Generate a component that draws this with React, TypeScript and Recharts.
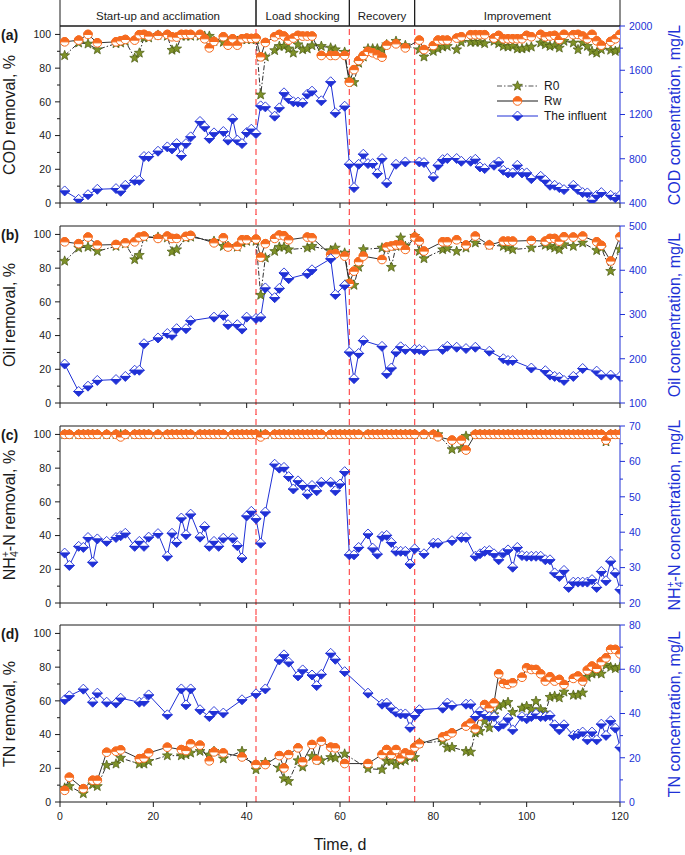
import React from "react";
import {
  LineChart,
  Line,
  XAxis,
  YAxis,
  ReferenceLine,
  ReferenceArea,
} from "recharts";

// ---- shared axis / phase info ----
const phaseNames = ["Start-up and acclimation", "Load shocking", "Recovery", "Improvement"];
const phaseStarts = [0, 42, 62, 76];
const phaseEnds = [42, 62, 76, 120];
const phaseBounds = [42, 62, 76];

const dayMajor = [0, 20, 40, 60, 80, 100, 120];
const dayMinor = [10, 30, 50, 70, 90, 110];
const pctMajor = [0, 20, 40, 60, 80, 100];
const pctMinor = [10, 30, 50, 70, 90];

// ---- (a) COD ----
const codDays = [
  1, 4, 6, 8, 12, 13, 14, 16, 17, 18, 19, 21, 23, 24, 25, 26, 27, 28, 30, 31, 32, 33, 35, 36, 37, 38,
  39, 40, 41, 42, 43, 44, 46, 47, 48, 49, 50, 51, 52, 53, 54, 56, 58, 59, 61, 62, 63, 64, 65, 66, 67,
  68, 69, 70, 72, 74, 77, 78, 80, 81, 82, 83, 85, 86, 88, 89, 90, 91, 93, 94, 95, 96, 97, 98, 99,
  100, 101, 103, 104, 105, 106, 107, 108, 110, 111, 112, 113, 114, 115, 116, 118, 119, 120,
];
const codInf = [
  509, 433, 475, 524, 530, 506, 560, 605, 605, 820, 820, 868, 907, 889, 937, 829, 937, 998, 1137, 1088,
  983, 1034, 1046, 968, 1161, 968, 937, 1037, 1067, 1028, 1278, 1269, 1185, 1260, 1396, 1342, 1315,
  1312, 1306, 1384, 1411, 1324, 1496, 1215, 1275, 750, 539, 750, 841, 756, 756, 666, 802, 581, 750,
  771, 771, 765, 635, 741, 792, 802, 802, 777, 777, 795, 726, 711, 741, 771, 696, 672, 672, 741, 672,
  672, 620, 641, 605, 560, 560, 539, 521, 560, 521, 494, 491, 424, 469, 494, 469, 448, 469,
];
const codRw = [
  95.6, 96.6, 100, 95, 95.6, 96.2, 97, 96.6, 99.8, 100, 99, 99.4, 100, 98.6, 98.4, 100, 100, 100, 100,
  97.4, 92, 95.8, 98.6, 93.6, 97.4, 93.6, 97.4, 97.8, 97.6, 97.8, 86.7, 95.2, 98.6, 100, 99, 96.6, 97.8,
  99.4, 99, 99, 99, 87.5, 87.5, 87.5, 87.5, 71.6, 79.1, 84.5, 87.5, 89.9, 89.1, 87.9, 86.5, 93.6, 94.4,
  92, 96.6, 91, 93.4, 96.6, 96.6, 96.6, 97.8, 98.6, 99.8, 99.8, 99.8, 99.8, 97.8, 99.4, 97.4, 97.4,
  97.4, 97.4, 97.4, 99.4, 98.6, 100, 98.6, 99, 99.4, 97, 100, 99.8, 100, 99, 97.4, 100, 96.2, 93.6,
  95.8, 97.4, 100,
];
const codR0 = [
  87.5, 95, 94.4, 91, 94.6, 95, 96, 86, 89, 98, 98, 99.6, 99, 90.7, 91.5, 99, 99, 99, 99, 99, 99, 96,
  95.4, 96, 97, 96, 97, 97, 97, 97, 64.2, 86.7, 90.5, 93, 93, 91.5, 89, 94, 91, 91.5, 93.4, 93, 92, 91,
  89.5, 73, 71.6, 83, 86.7, 91.5, 91.5, 91.5, 91, 94, 96, 93.5, 91, 86.7, 90, 91.5, 92.6, 93, 91, 95.4,
  95.4, 95.4, 95.4, 94.6, 96, 94.6, 93, 92.6, 93, 91.5, 91.5, 92, 92.6, 95, 94, 93, 93.4, 92, 96, 95,
  91, 95, 93, 90, 89, 91, 90.7, 90, 91,
];
const codMajor = [400, 800, 1200, 1600, 2000];
const codMinor = [600, 1000, 1400, 1800];

// ---- (b) Oil ----
const oilDays = [
  1, 4, 6, 8, 12, 14, 16, 17, 18, 21, 23, 24, 25, 27, 28, 33, 35, 36, 38, 39, 40, 42, 43, 44, 46, 47,
  48, 49, 53, 54, 58, 59, 61, 62, 63, 64, 65, 69, 70, 71, 72, 73, 74, 76, 77, 78, 82, 83, 85, 87, 89,
  92, 95, 96, 97, 101, 104, 105, 106, 107, 108, 110, 112, 115, 116, 118, 120,
];
const oilInf = [
  188, 126, 138, 151, 153, 160, 174, 174, 234, 247, 257, 253, 268, 268, 286, 294, 298, 277, 277, 267,
  294, 291, 294, 360, 338, 359, 394, 381, 392, 401, 426, 345, 366, 215, 155, 212, 241, 228, 166, 179,
  215, 227, 221, 221, 221, 218, 221, 228, 226, 223, 226, 217, 200, 196, 196, 179, 173, 163, 160, 158,
  151, 160, 178, 172, 163, 163, 160,
];
const oilRw = [
  95.6, 94.5, 98.4, 93.7, 94, 95, 95.6, 98.4, 99, 97.6, 99, 97.6, 97.6, 98.8, 99.4, 95, 98, 92.5, 93,
  96.8, 96.8, 97.2, 86.5, 94.5, 97.6, 99.6, 99.2, 96.8, 98.4, 98, 88.1, 88.5, 87.1, 70.9, 78.2, 83.8,
  87.1, 85.1, 92.5, 93.1, 93.7, 93.7, 91.1, 98.4, 96, 90.1, 95.6, 95.6, 96.8, 93.7, 99, 93.7, 96, 96,
  96, 96.4, 96, 97.6, 97.6, 96, 98.6, 98.4, 99, 95.6, 93.5, 84.2, 98.6,
];
const oilR0 = [
  84.2, 92, 92.5, 90, 93, 94.5, 85.1, 87.7, 98.4, 98.4, 98, 89.7, 91, 98, 98.5, 96, 93, 93, 92.5, 95,
  96, 96, 64, 86.1, 90, 92.5, 92.5, 91, 92, 93, 90.5, 92, 89, 71.9, 69.9, 80.6, 91.1, 92, 92, 80.6, 93,
  98, 93, 99, 90, 85.7, 91, 91.7, 90, 92, 95, 93.7, 93, 92, 91, 92, 93.7, 93, 92, 91, 94, 93, 95, 90.5,
  92, 78.2, 91.1,
];
const oilMajor = [100, 200, 300, 400, 500];
const oilMinor = [150, 250, 350, 450];

// ---- (c) NH4+-N ----
const nhDays = [
  1, 2, 4, 5, 6, 7, 8, 10, 12, 13,
  14, 16, 17, 18, 19, 21, 23, 24, 25, 26,
  27, 28, 30, 31, 32, 33, 34, 35, 37, 38,
  39, 40, 41, 42, 43, 44, 46, 47, 48, 49,
  50, 51, 52, 53, 54, 55, 56, 58, 59, 60,
  61, 62, 63, 64, 66, 67, 68, 69, 70, 71,
  72, 73, 74, 75, 76, 78, 80, 81, 84, 86,
  87, 89, 90, 91, 92, 93, 94, 95, 96, 97,
  98, 99, 100, 101, 102, 103, 104, 105, 106, 107,
  108, 109, 110, 111, 112, 113, 114, 115, 116, 117,
  118, 119, 120,
];
const nhInf = [
  34.1, 30.6, 36.0, 35.7, 38.5, 31.5, 38.1, 37.4, 38.5, 39.0,
  39.7, 36.0, 37.4, 36.0, 38.6, 39.6, 33.2, 39.7, 37.1, 44.0,
  39.3, 45.1, 38.6, 41.6, 36.0, 37.4, 36.0, 38.3, 38.3, 36.2,
  32.7, 44.6, 45.9, 43.8, 36.9, 45.7, 59.2, 58.1, 58.3, 55.7,
  52.2, 54.5, 53.2, 50.7, 53.2, 51.7, 54.1, 54.1, 51.7, 53.6,
  57.1, 33.6, 33.6, 35.7, 39.5, 35.5, 33.8, 38.8, 39.1, 37.1,
  34.6, 34.6, 34.6, 31.0, 35.3, 33.9, 36.9, 36.9, 37.6, 38.5,
  38.5, 33.2, 33.9, 34.6, 34.8, 33.9, 32.2, 34.1, 35.0, 30.1,
  35.7, 33.4, 33.2, 33.2, 33.2, 33.2, 32.2, 32.2, 28.5, 27.5,
  29.2, 24.4, 25.9, 25.9, 25.9, 25.9, 26.6, 24.4, 28.9, 26.3,
  31.8, 28.5, 23.8,
];
const nhRw = [
  100, 100, 100, 100, 100, 100, 100, 100, 100, 98.5,
  100, 100, 100, 100, 100, 100, 100, 100, 100, 100,
  100, 100, 100, 100, 100, 100, 100, 100, 100, 100,
  100, 100, 100, 100, 98.5, 100, 100, 100, 100, 100,
  100, 100, 100, 100, 100, 100, 100, 100, 100, 100,
  100, 100, 100, 100, 100, 100, 100, 100, 100, 100,
  100, 100, 100, 100, 100, 100, 100, 98.6, 96.6, 96.6,
  90.7, 100, 100, 100, 100, 100, 100, 100, 100, 100,
  100, 100, 100, 100, 100, 100, 100, 100, 100, 100,
  100, 100, 100, 100, 100, 100, 100, 100, 100, 96.6,
  100, 100, 100,
];
const nhR0 = [
  100, 100, 100, 100, 100, 100, 100, 100, 100, 100,
  100, 100, 100, 100, 100, 100, 100, 100, 100, 100,
  100, 100, 100, 100, 100, 100, 100, 100, 100, 100,
  100, 100, 100, 100, 100, 100, 100, 100, 100, 100,
  100, 100, 100, 100, 100, 100, 100, 100, 100, 100,
  100, 100, 100, 100, 100, 100, 100, 100, 100, 100,
  100, 100, 100, 100, 100, 100, 100, 100, 91.1, 91.7,
  99, 100, 100, 100, 100, 100, 100, 100, 100, 100,
  100, 100, 100, 100, 100, 100, 100, 100, 100, 100,
  100, 100, 100, 100, 100, 100, 100, 100, 100, 95.7,
  100, 100, 100,
];
const nhMajor = [20, 30, 40, 50, 60, 70];
const nhMinor = [25, 35, 45, 55, 65];

// ---- (d) TN ----
const tnDays = [
  1, 2, 5, 7, 8, 10, 12, 13, 17, 18,
  19, 23, 26, 27, 28, 30, 32, 33, 35, 39,
  42, 44, 47, 48, 49, 51, 52, 54, 55, 56,
  58, 59, 61, 66, 69, 70, 71, 72, 73, 74,
  75, 76, 77, 82, 83, 84, 87, 88, 89, 90,
  91, 92, 93, 94, 95, 96, 97, 99, 100, 101,
  102, 103, 104, 105, 106, 107, 108, 110, 111, 112,
  113, 114, 115, 116, 117, 118, 119, 120,
];
const tnInf = [
  46.2, 48.0, 51.0, 45.1, 49.2, 45.1, 44.7, 46.9, 45.1, 45.4,
  48.4, 39.4, 51.1, 43.9, 51.1, 41.7, 38.6, 40.9, 40.2, 46.2,
  48.9, 51.1, 64.2, 66.5, 63.2, 57.0, 59.7, 57.4, 52.6, 57.7,
  67.2, 64.5, 58.9, 49.2, 44.2, 44.7, 42.4, 40.6, 39.8, 39.8,
  33.7, 39.1, 41.7, 42.4, 44.7, 43.6, 44.2, 44.2, 38.6, 40.9,
  39.4, 38.6, 38.6, 34.1, 35.2, 37.9, 32.6, 38.6, 37.6, 38.6,
  39.7, 38.6, 38.6, 39.1, 34.9, 32.6, 34.9, 30.1, 30.7, 31.6,
  28.1, 31.6, 28.1, 35.2, 30.1, 36.7, 33.4, 24.7,
];
const tnRw = [
  6.9, 14.7, 7.9, 12.9, 12.9, 29.5, 30.1, 30.9, 25.7, 26.1,
  29.1, 32.5, 31.1, 30.5, 34.5, 33.7, 24.4, 29.7, 29.1, 26.7,
  22.2, 22.2, 27.5, 20.2, 28.1, 32.1, 23.8, 34.1, 24.8, 36.0,
  32.5, 32.1, 22.8, 22.8, 28.1, 31.1, 28.1, 31.1, 26.1, 29.1,
  28.1, 32.5, 34.5, 38.6, 39.4, 41.0, 45.0, 46.9, 43.4, 51.0,
  57.8, 55.8, 58.8, 76.0, 70.3, 69.7, 70.7, 74.0, 79.6, 78.6,
  78.6, 76.0, 71.7, 74.3, 71.7, 72.7, 69.7, 73.3, 74.7, 71.7,
  78.2, 80.6, 79.2, 83.2, 85.5, 90.5, 90.5, 87.9,
];
const tnR0 = [
  8.3, 9.3, 5.0, 10.3, 9.3, 21.8, 22.6, 26.1, 22.6, 22.6,
  24.2, 27.5, 27.5, 28.1, 29.1, 30.1, 28.0, 30.1, 25.7, 30.1,
  19.2, 23.6, 20.2, 13.9, 12.3, 24.6, 20.8, 27.1, 25.1, 24.6,
  26.5, 26.1, 28.5, 19.8, 19.2, 24.2, 24.2, 22.0, 24.2, 24.6,
  26.7, 26.5, 35.0, 36.0, 32.1, 32.5, 30.1, 29.7, 41.0, 42.0,
  47.9, 44.0, 51.9, 56.8, 57.8, 59.2, 53.2, 55.8, 56.8, 54.9,
  59.8, 54.9, 52.9, 62.2, 62.8, 61.8, 65.3, 63.4, 63.4, 64.8,
  74.1, 76.0, 76.6, 76.0, 81.2, 80.0, 79.2, 80.0,
];
const tnMajor = [0, 20, 40, 60, 80];
const tnMinor = [10, 30, 50, 70];

// ---- look ----
const INK = "#1a1a1a";
const BLUE = "#2031d6";
const ORANGE = "#f66a1e";
const OLIVE = "#7e9128";
const OLIVE_DARK = "#4b5a12";
const RED = "#ff4d4d";
const FONT = "Arial, 'Liberation Sans', Helvetica, sans-serif";

const W = 685;
const PLOT_H = 177;
const PAD = 14;
const HEADER_H = 26;
const LEFT_MAX = 105;
const UNIT = LEFT_MAX / PLOT_H;

function starPath(cx: number, cy: number, R: number, r: number) {
  let d = "";
  for (let i = 0; i < 10; i++) {
    const rad = i % 2 === 0 ? R : r;
    const a = -Math.PI / 2 + (i * Math.PI) / 5;
    d += (i === 0 ? "M" : "L") + (cx + rad * Math.cos(a)).toFixed(2) + " " + (cy + rad * Math.sin(a)).toFixed(2);
  }
  return d + "Z";
}

const Star = ({ cx, cy }: { cx: number; cy: number }) => (
  <path d={starPath(cx, cy, 5.2, 2.2)} fill={OLIVE} stroke={OLIVE_DARK} strokeWidth={0.7} />
);

const HalfCircle = ({ cx, cy }: { cx: number; cy: number }) => {
  const r = 4.3;
  return (
    <g>
      <circle cx={cx} cy={cy} r={r} fill="#fff" stroke={ORANGE} strokeWidth={1} />
      <path d={`M${cx - r} ${cy} A${r} ${r} 0 0 1 ${cx + r} ${cy} Z`} fill={ORANGE} stroke={ORANGE} strokeWidth={1} />
    </g>
  );
};

const Diamond = ({ cx, cy }: { cx: number; cy: number }) => {
  const w = 5;
  const h = 5;
  return (
    <g>
      <path d={`M${cx - w} ${cy} L${cx} ${cy - h} L${cx + w} ${cy} Z`} fill="#fff" stroke={BLUE} strokeWidth={0.9} />
      <path d={`M${cx - w} ${cy} L${cx} ${cy + h} L${cx + w} ${cy} Z`} fill={BLUE} stroke={BLUE} strokeWidth={0.9} />
    </g>
  );
};

const dotOf = (Mark: any) => (p: any) => {
  if (p.cx == null || p.cy == null || p.value == null) return <g key={`e-${p.index}`} />;
  return (
    <g key={`m-${p.index}`}>
      <Mark cx={p.cx} cy={p.cy} />
    </g>
  );
};

const makeTick = (side: "left" | "right" | "bottom", major: number[], color: string, showLabel: boolean) => (p: any) => {
  const v = p.payload.value;
  const isMajor = major.includes(v);
  const len = isMajor ? 5 : 3;
  if (side === "bottom") {
    return (
      <g>
        <line x1={p.x} x2={p.x} y1={p.y} y2={p.y + len} stroke={color} />
        {showLabel && isMajor && (
          <text x={p.x} y={p.y + 18} textAnchor="middle" fontSize={10.5} fill={color}>
            {v}
          </text>
        )}
      </g>
    );
  }
  const s = side === "left" ? -1 : 1;
  return (
    <g>
      <line x1={p.x} x2={p.x + s * len} y1={p.y} y2={p.y} stroke={color} />
      {isMajor && (
        <text x={p.x + s * 9} y={p.y} dy="0.36em" textAnchor={side === "left" ? "end" : "start"} fontSize={10.5} fill={color}>
          {v}
        </text>
      )}
    </g>
  );
};

type PanelProps = {
  plotTop: number;
  letter: string;
  days: number[];
  r0: number[];
  rw: number[];
  inf: number[];
  rightDomain: [number, number];
  rightMajor: number[];
  rightMinor: number[];
  leftTitle: React.ReactNode;
  rightTitle: React.ReactNode;
  header?: boolean;
  last?: boolean;
};

function Panel(props: PanelProps) {
  const { plotTop, days, r0, rw, inf, rightDomain, rightMajor, rightMinor, header, last } = props;
  const mTop = header ? HEADER_H : PAD;
  const xH = last ? 30 : PAD;
  const height = mTop + PLOT_H + xH;
  const rows = days.map((day, i) => ({ day, r0: r0[i], rw: rw[i], inf: inf[i] }));
  const ext = 12 * UNIT;
  const segTop = header ? LEFT_MAX : LEFT_MAX + ext;
  const segBottom = last ? 0 : -ext;
  const headTop = LEFT_MAX + (HEADER_H + 3) * UNIT;
  const rightTicks = [...rightMajor, ...rightMinor].sort((a, b) => a - b);

  return (
    <div style={{ position: "absolute", left: 0, top: plotTop - mTop }}>
      <LineChart width={W} height={height} data={rows} margin={{ top: mTop, right: 0, bottom: 0, left: 0 }}>
        <XAxis
          dataKey="day"
          type="number"
          domain={[0, 120]}
          ticks={[...dayMajor, ...dayMinor].sort((a, b) => a - b)}
          interval={0}
          height={xH}
          tickLine={false}
          tickSize={0}
          tickMargin={0}
          axisLine={{ stroke: INK }}
          tick={makeTick("bottom", dayMajor, INK, !!last)}
          allowDataOverflow
        />
        <YAxis
          yAxisId="left"
          domain={[0, LEFT_MAX]}
          ticks={[...pctMajor, ...pctMinor].sort((a, b) => a - b)}
          interval={0}
          width={60}
          tickLine={false}
          tickSize={0}
          tickMargin={0}
          axisLine={{ stroke: INK }}
          tick={makeTick("left", pctMajor, INK, true)}
          allowDataOverflow
        />
        <YAxis
          yAxisId="right"
          orientation="right"
          domain={rightDomain}
          ticks={rightTicks}
          interval={0}
          width={65}
          tickLine={false}
          tickSize={0}
          tickMargin={0}
          axisLine={{ stroke: BLUE }}
          tick={makeTick("right", rightMajor, BLUE, true)}
          allowDataOverflow
        />
        <ReferenceLine yAxisId="left" y={LEFT_MAX} stroke={INK} strokeWidth={1} />
        {header &&
          phaseNames.map((name, i) => (
            <ReferenceArea
              key={name}
              yAxisId="left"
              x1={phaseStarts[i]}
              x2={phaseEnds[i]}
              y1={LEFT_MAX}
              y2={headTop}
              ifOverflow="visible"
              fill="none"
              fillOpacity={0}
              stroke={INK}
              strokeWidth={1}
              label={{ value: name, position: "insideBottom", offset: 6, fontSize: 11.5, fill: INK }}
            />
          ))}
        {phaseBounds.map((b) => (
          <ReferenceLine
            key={b}
            yAxisId="left"
            segment={[
              { x: b, y: segBottom },
              { x: b, y: segTop },
            ]}
            ifOverflow="visible"
            stroke={RED}
            strokeWidth={1.2}
            strokeDasharray="6 4"
          />
        ))}
        <Line
          yAxisId="left"
          dataKey="r0"
          stroke={INK}
          strokeWidth={0.9}
          strokeDasharray="5 2 1.5 2"
          dot={dotOf(Star)}
          activeDot={false}
          isAnimationActive={false}
        />
        <Line
          yAxisId="left"
          dataKey="rw"
          stroke={INK}
          strokeWidth={0.9}
          dot={dotOf(HalfCircle)}
          activeDot={false}
          isAnimationActive={false}
        />
        <Line
          yAxisId="right"
          dataKey="inf"
          stroke={BLUE}
          strokeWidth={1}
          dot={dotOf(Diamond)}
          activeDot={false}
          isAnimationActive={false}
        />
      </LineChart>
    </div>
  );
}

function VTitle({ cx, cy, color, children }: { cx: number; cy: number; color: string; children: React.ReactNode }) {
  return (
    <div
      style={{
        position: "absolute",
        left: cx,
        top: cy,
        transform: "translate(-50%, -50%) rotate(-90deg)",
        whiteSpace: "nowrap",
        fontSize: 16,
        lineHeight: "16px",
        height: 16,
        color,
      }}
    >
      {children}
    </div>
  );
}

const scriptStyle: React.CSSProperties = {
  fontSize: 10.5,
  lineHeight: 0,
  position: "relative",
  verticalAlign: "baseline",
};

const NH4 = (
  <>
    NH<span style={{ ...scriptStyle, top: 3 }}>4</span>
    <span style={{ ...scriptStyle, top: -6, marginLeft: -6 }}>+</span>-N
  </>
);

const panels = [
  {
    letter: "(a)", plotTop: 26, days: codDays, r0: codR0, rw: codRw, inf: codInf,
    rightDomain: [400, 2000] as [number, number], rightMajor: codMajor, rightMinor: codMinor,
    leftTitle: "COD removal, %", rightTitle: "COD concentration, mg/L", header: true,
  },
  {
    letter: "(b)", plotTop: 226, days: oilDays, r0: oilR0, rw: oilRw, inf: oilInf,
    rightDomain: [100, 500] as [number, number], rightMajor: oilMajor, rightMinor: oilMinor,
    leftTitle: "Oil removal, %", rightTitle: "Oil concentration, mg/L",
  },
  {
    letter: "(c)", plotTop: 426, days: nhDays, r0: nhR0, rw: nhRw, inf: nhInf,
    rightDomain: [20, 70] as [number, number], rightMajor: nhMajor, rightMinor: nhMinor,
    leftTitle: <>{NH4} removal, %</>, rightTitle: <>{NH4} concentration, mg/L</>,
  },
  {
    letter: "(d)", plotTop: 625, days: tnDays, r0: tnR0, rw: tnRw, inf: tnInf,
    rightDomain: [0, 80] as [number, number], rightMajor: tnMajor, rightMinor: tnMinor,
    leftTitle: "TN removal, %", rightTitle: "TN concentration, mg/L", last: true,
  },
];

function LegendBox() {
  const rows = [
    { label: "R0", color: "#555", dash: "5 2 1.5 2", Mark: Star },
    { label: "Rw", color: INK, dash: undefined, Mark: HalfCircle },
    { label: "The influent", color: BLUE, dash: undefined, Mark: Diamond },
  ];
  return (
    <svg width={130} height={50} style={{ position: "absolute", left: 493, top: 78 }}>
      {rows.map((r, i) => {
        const y = 8 + i * 15;
        return (
          <g key={r.label}>
            <line x1={4} x2={45} y1={y} y2={y} stroke={r.color} strokeWidth={1} strokeDasharray={r.dash} />
            <r.Mark cx={24.5} cy={y} />
            <text x={51} y={y} dy="0.36em" fontSize={12} fill={INK}>
              {r.label}
            </text>
          </g>
        );
      })}
    </svg>
  );
}

export default function App() {
  return (
    <div
      style={{
        position: "absolute",
        left: 0,
        top: 0,
        width: W,
        height: 855,
        background: "#fff",
        fontFamily: FONT,
        color: INK,
      }}
    >
      {panels.map((p) => (
        <React.Fragment key={p.letter}>
          <Panel {...p} />
          <div
            style={{
              position: "absolute",
              left: 1,
              top: p.plotTop + 1,
              fontSize: 14,
              fontWeight: "bold",
              lineHeight: "16px",
            }}
          >
            {p.letter}
          </div>
          <VTitle cx={10} cy={p.plotTop + PLOT_H / 2} color={INK}>
            {p.leftTitle}
          </VTitle>
          <VTitle cx={675} cy={p.plotTop + PLOT_H / 2} color={BLUE}>
            {p.rightTitle}
          </VTitle>
        </React.Fragment>
      ))}
      <LegendBox />
      <div
        style={{
          position: "absolute",
          left: 340,
          top: 845,
          transform: "translate(-50%, -50%)",
          fontSize: 16,
          lineHeight: "16px",
          whiteSpace: "nowrap",
        }}
      >
        Time, d
      </div>
    </div>
  );
}
